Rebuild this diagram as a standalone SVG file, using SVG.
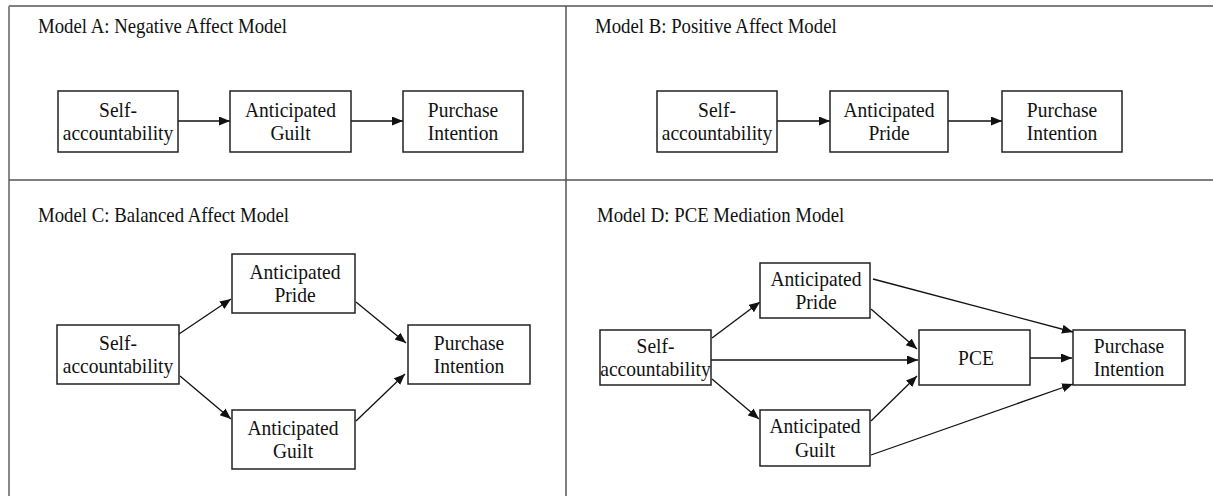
<svg xmlns="http://www.w3.org/2000/svg" width="1213" height="496" viewBox="0 0 1213 496">
<style>
.frame{fill:none;stroke:#555;stroke-width:1.5}
.box{fill:#fff;stroke:#222;stroke-width:1.5}
.title{font-family:"Liberation Serif","Times New Roman",serif;font-size:20.2px;fill:#111}
.lbl{font-family:"Liberation Serif","Times New Roman",serif;font-size:21px;fill:#111;text-anchor:middle}
.edge{fill:none;stroke:#111;stroke-width:1.3;marker-end:url(#ah)}
</style>
<defs>
<marker id="ah" markerUnits="userSpaceOnUse" markerWidth="12" markerHeight="10" refX="11" refY="4.5" orient="auto">
<path d="M0,0 L11,4.5 L0,9 z" fill="#111"/>
</marker>
</defs>
<rect width="1213" height="496" fill="#fff"/>
<g id="frame">
<line class="frame" x1="9" y1="6" x2="1213" y2="6"/>
<line class="frame" x1="9" y1="6" x2="9" y2="496" style="stroke:#888;stroke-width:2"/>
<line class="frame" x1="566" y1="6" x2="566" y2="496"/>
<line class="frame" x1="9" y1="180" x2="1213" y2="180"/>
</g>
<g id="titles">
<text class="title" transform="matrix(0.93,0,0,1,38,33)">Model A: Negative Affect Model</text>
<text class="title" transform="matrix(0.93,0,0,1,595,33)">Model B: Positive Affect Model</text>
<text class="title" transform="matrix(0.93,0,0,1,38,222)">Model C: Balanced Affect Model</text>
<text class="title" transform="matrix(0.93,0,0,1,597,222)">Model D: PCE Mediation Model</text>
</g>
<g id="connectors">
<line class="edge" x1="178" y1="121" x2="230" y2="121"/>
<line class="edge" x1="351" y1="121" x2="403" y2="121"/>
<line class="edge" x1="777" y1="121" x2="830" y2="121"/>
<line class="edge" x1="948" y1="121" x2="1002" y2="121"/>
<line class="edge" x1="179" y1="334" x2="231" y2="299"/>
<line class="edge" x1="180" y1="376" x2="231" y2="419"/>
<line class="edge" x1="356" y1="302" x2="406" y2="343"/>
<line class="edge" x1="356" y1="421" x2="405" y2="374"/>
<line class="edge" x1="712" y1="338" x2="760" y2="302"/>
<line class="edge" x1="712" y1="379" x2="759" y2="419"/>
<line class="edge" x1="711" y1="360" x2="918" y2="360"/>
<line class="edge" x1="871" y1="309" x2="917" y2="349"/>
<line class="edge" x1="871" y1="421" x2="917" y2="376"/>
<line class="edge" x1="873" y1="279" x2="1073" y2="332"/>
<line class="edge" x1="871" y1="455" x2="1073" y2="384"/>
<line class="edge" x1="1030" y1="358" x2="1072" y2="358"/>
</g>
<g id="a-self"><rect class="box" x="58" y="91" width="120" height="61"/><text class="lbl" transform="matrix(0.93,0,0,1,118,116.5)">Self-</text><text class="lbl" transform="matrix(0.93,0,0,1,118,140)">accountability</text></g>
<g id="a-guilt"><rect class="box" x="230" y="91" width="121" height="61"/><text class="lbl" transform="matrix(0.93,0,0,1,290.5,116.5)">Anticipated</text><text class="lbl" transform="matrix(0.93,0,0,1,290.5,140)">Guilt</text></g>
<g id="a-purchase"><rect class="box" x="403" y="91" width="120" height="61"/><text class="lbl" transform="matrix(0.93,0,0,1,463,116.5)">Purchase</text><text class="lbl" transform="matrix(0.93,0,0,1,463,140)">Intention</text></g>
<g id="b-self"><rect class="box" x="657" y="91" width="120" height="61"/><text class="lbl" transform="matrix(0.93,0,0,1,717,116.5)">Self-</text><text class="lbl" transform="matrix(0.93,0,0,1,717,140)">accountability</text></g>
<g id="b-pride"><rect class="box" x="830" y="91" width="118" height="61"/><text class="lbl" transform="matrix(0.93,0,0,1,889,116.5)">Anticipated</text><text class="lbl" transform="matrix(0.93,0,0,1,889,140)">Pride</text></g>
<g id="b-purchase"><rect class="box" x="1002" y="91" width="120" height="61"/><text class="lbl" transform="matrix(0.93,0,0,1,1062,116.5)">Purchase</text><text class="lbl" transform="matrix(0.93,0,0,1,1062,140)">Intention</text></g>
<g id="c-self"><rect class="box" x="57" y="325" width="122" height="59"/><text class="lbl" transform="matrix(0.93,0,0,1,118,349.5)">Self-</text><text class="lbl" transform="matrix(0.93,0,0,1,118,373)">accountability</text></g>
<g id="c-pride"><rect class="box" x="232" y="254" width="123" height="59"/><text class="lbl" transform="matrix(0.93,0,0,1,295,278.5)">Anticipated</text><text class="lbl" transform="matrix(0.93,0,0,1,295,302)">Pride</text></g>
<g id="c-guilt"><rect class="box" x="232" y="410" width="123" height="59"/><text class="lbl" transform="matrix(0.93,0,0,1,293,434.5)">Anticipated</text><text class="lbl" transform="matrix(0.93,0,0,1,293,458)">Guilt</text></g>
<g id="c-purchase"><rect class="box" x="408" y="325" width="122" height="59"/><text class="lbl" transform="matrix(0.93,0,0,1,469,349.5)">Purchase</text><text class="lbl" transform="matrix(0.93,0,0,1,469,373)">Intention</text></g>
<g id="d-self"><rect class="box" x="600" y="330" width="111" height="55"/><text class="lbl" transform="matrix(0.93,0,0,1,655.5,352.5)">Self-</text><text class="lbl" transform="matrix(0.93,0,0,1,655.5,376)">accountability</text></g>
<g id="d-pride"><rect class="box" x="760" y="263" width="110" height="55"/><text class="lbl" transform="matrix(0.93,0,0,1,816,285.5)">Anticipated</text><text class="lbl" transform="matrix(0.93,0,0,1,816,309)">Pride</text></g>
<g id="d-guilt"><rect class="box" x="760" y="410" width="110" height="56"/><text class="lbl" transform="matrix(0.93,0,0,1,815,433)">Anticipated</text><text class="lbl" transform="matrix(0.93,0,0,1,815,456.5)">Guilt</text></g>
<g id="d-pce"><rect class="box" x="919" y="330" width="111" height="55"/><text class="lbl" transform="matrix(0.93,0,0,1,976,365)">PCE</text></g>
<g id="d-purchase"><rect class="box" x="1073" y="330" width="112" height="55"/><text class="lbl" transform="matrix(0.93,0,0,1,1129,352.5)">Purchase</text><text class="lbl" transform="matrix(0.93,0,0,1,1129,376)">Intention</text></g>
</svg>
